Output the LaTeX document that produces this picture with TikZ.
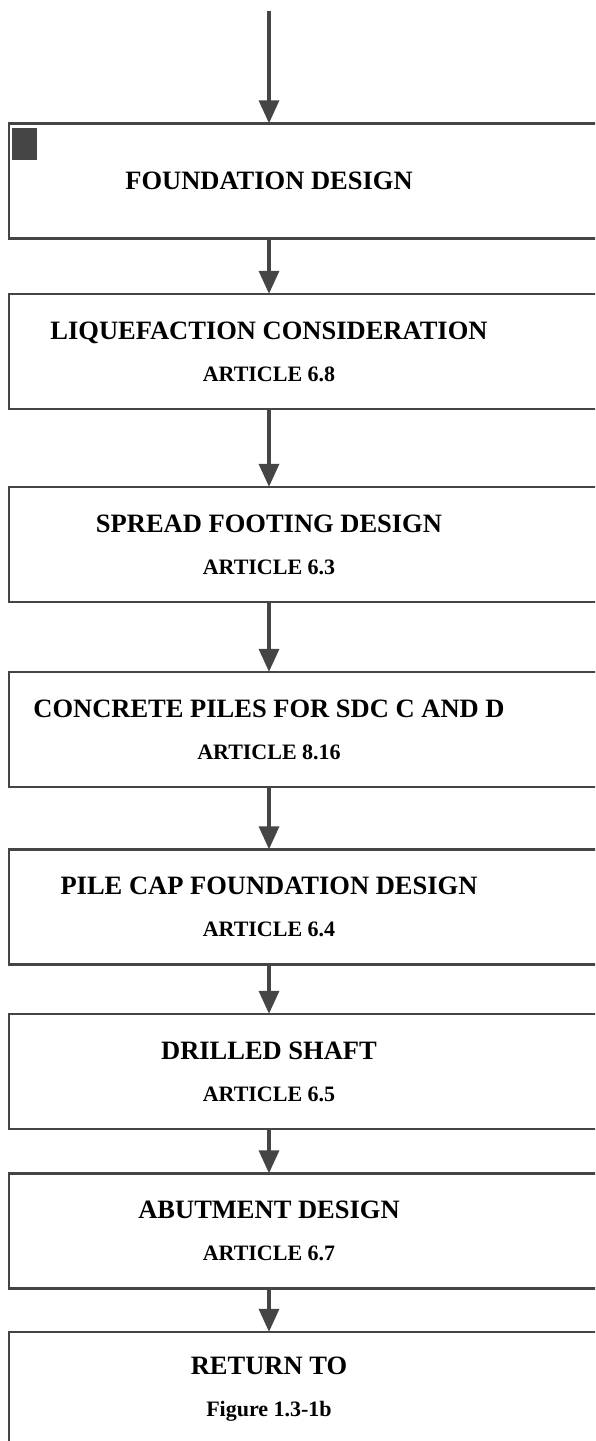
\documentclass[tikz,border=0pt]{standalone}
\usepackage{fontspec}
\setmainfont{Liberation Serif}
\usepackage{tikz}
\usetikzlibrary{arrows.meta, positioning}
\definecolor{linegray}{HTML}{454545}
\tikzstyle{stepbox} = [rectangle, minimum width=520pt, minimum height=115pt, inner sep=0pt, align=center, text=black, font=\bfseries\fontsize{26.5}{42}\selectfont]
\tikzstyle{frame} = [draw=linegray, line width=2.5pt]
\tikzstyle{arrow} = [draw=linegray, line width=3.5pt, -{Triangle[width=20pt,length=23pt]}]
\newcommand{\artline}[1]{{\fontsize{22}{42}\selectfont #1}}

\begin{document}
\begin{tikzpicture}[x=1pt, y=1pt, node distance=160pt]
\useasboundingbox (0,0) rectangle (595,-1441);
\clip (0,0) rectangle (595,-1441);

\coordinate (start) at (269,-11);
\node (foundation) [stepbox] at (269,-181) {FOUNDATION DESIGN};
\node (liquefaction) [stepbox, below of=foundation, yshift=-10.5pt] {LIQUEFACTION CONSIDERATION\\\artline{ARTICLE 6.8}};
\node (spread) [stepbox, below of=liquefaction, yshift=-33pt] {SPREAD FOOTING DESIGN\\\artline{ARTICLE 6.3}};
\node (piles) [stepbox, below of=spread, yshift=-25pt] {CONCRETE PILES FOR SDC C AND D\\\artline{ARTICLE 8.16}};
\node (pilecap) [stepbox, below of=piles, yshift=-17.5pt] {PILE CAP FOUNDATION DESIGN\\\artline{ARTICLE 6.4}};
\node (shaft) [stepbox, below of=pilecap, yshift=-4.5pt] {DRILLED SHAFT\\\artline{ARTICLE 6.5}};
\node (abutment) [stepbox, below of=shaft, yshift=0.5pt] {ABUTMENT DESIGN\\\artline{ARTICLE 6.7}};
\node (returnto) [stepbox, below of=abutment, yshift=1.5pt] {RETURN TO\\\artline{Figure 1.3-1b}};

% boxes run off the right edge
\foreach \n in {foundation,liquefaction,spread,piles,pilecap,shaft,abutment,returnto}
  \draw [frame] (\n.north west) rectangle ([xshift=120pt]\n.south east);

\node (marker) [fill=linegray, minimum width=25pt, minimum height=32pt, inner sep=0pt, anchor=north west] at ([xshift=3pt,yshift=-4pt]foundation.north west) {};

\draw [arrow] (start) -- (foundation);
\draw [arrow] (foundation) -- (liquefaction);
\draw [arrow] (liquefaction) -- (spread);
\draw [arrow] (spread) -- (piles);
\draw [arrow] (piles) -- (pilecap);
\draw [arrow] (pilecap) -- (shaft);
\draw [arrow] (shaft) -- (abutment);
\draw [arrow] (abutment) -- (returnto);

\end{tikzpicture}
\end{document}
